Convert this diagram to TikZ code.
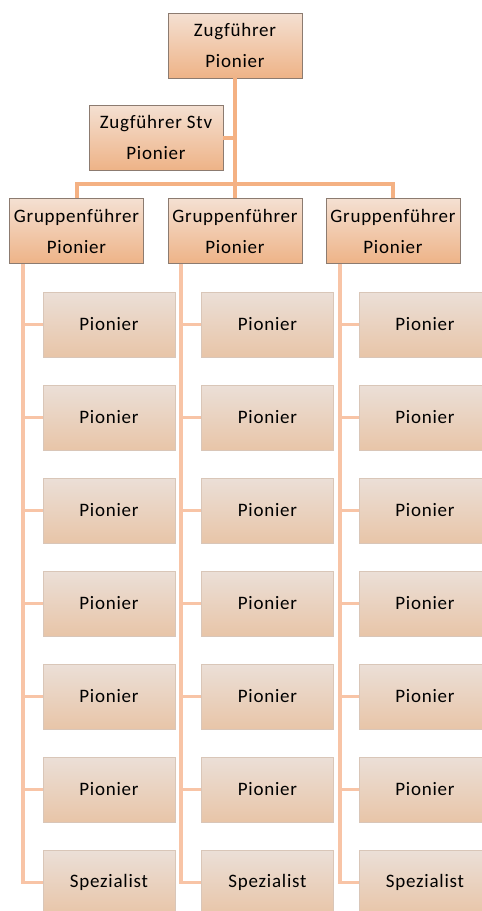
\documentclass[tikz,border=0pt]{standalone}
\usepackage{fontspec}
\setmainfont{Carlito}
\definecolor{lineA}{HTML}{F4B183}
\definecolor{lineB}{HTML}{F8C4A6}
\definecolor{topT}{HTML}{F4E0D2}
\definecolor{topB}{HTML}{EEB387}
\definecolor{topD}{HTML}{8C7B70}
\definecolor{chT}{HTML}{EBDFD7}
\definecolor{chB}{HTML}{E8C5A8}
\definecolor{chD}{HTML}{D9C6B8}
\tikzset{
  lead/.style={draw=topD, line width=0.8pt, top color=topT, bottom color=topB,
    minimum width=134pt, minimum height=65pt, inner sep=0pt, align=center,
    font=\fontsize{19}{31}\selectfont\addfontfeature{LetterSpace=4}},
  member/.style={draw=chD, line width=0.8pt, top color=chT, bottom color=chB,
    minimum width=132pt, minimum height=65pt, inner sep=0pt, align=center,
    font=\fontsize{19}{31}\selectfont\addfontfeature{LetterSpace=4}},
  mainline/.style={draw=lineA, line width=4pt},
  subline/.style={draw=lineB, line width=3.5pt}
}
\begin{document}
\begin{tikzpicture}[x=1pt,y=-1pt]
\useasboundingbox (0,0) rectangle (482,911);
\clip (0,0) rectangle (482,911);
\coordinate (bar) at (235,184);
\coordinate (l1) at (23,264);
\coordinate (l2) at (181,264);
\coordinate (l3) at (340,264);
\node[lead] (top) at (235,45.5) {Zugführer\\Pionier};
\node[lead] (stv) at (156,137.5) {Zugführer Stv\\Pionier};
\node[lead] (g1) at (76.5,231) {Gruppenführer\\Pionier};
\node[lead] (g2) at (235,231) {Gruppenführer\\Pionier};
\node[lead] (g3) at (393,231) {Gruppenführer\\Pionier};
\foreach \c/\x in {1/109,2/267.5,3/425}{
  \foreach \k/\t in {1/Pionier,2/Pionier,3/Pionier,4/Pionier,5/Pionier,6/Pionier,7/Spezialist}{
    \node[member] (c\c-\k) at (\x,{324.5+93*(\k-1)}) {\t};
  }
}
\draw[mainline] (top.south) -- (bar);
\draw[mainline] (stv.east) -- (stv.east -| top.south);
\draw[mainline] (g1.north) |- (bar) -| (g3.north);
\draw[mainline] (g2.north) -- (g2.north |- bar);
\foreach \c in {1,2,3}{
  \draw[subline] (l\c) |- (c\c-7.west);
  \foreach \k in {1,...,6}{
    \draw[subline] (c\c-\k.west) -- (c\c-\k.west -| l\c);
  }
}
\end{tikzpicture}
\end{document}
